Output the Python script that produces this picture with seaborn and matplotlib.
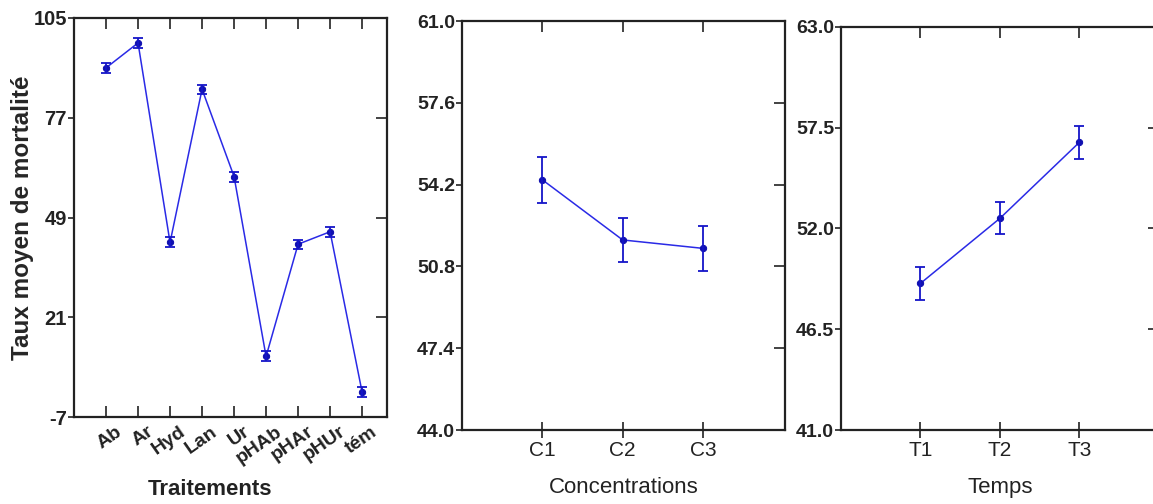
import numpy as np
import pandas as pd
import matplotlib
matplotlib.use("Agg")
import matplotlib.pyplot as plt
import matplotlib.transforms as mtransforms
import seaborn as sns

# valeurs
traitements = ["Ab", "Ar", "Hyd", "Lan", "Ur", "pHAb", "pHAr", "pHUr", "tém"]
mort_trait = [91.0, 98.0, 42.0, 85.0, 60.5, 10.0, 41.5, 45.0, 0.0]
err_trait = [1.5, 1.3, 1.4, 1.3, 1.4, 1.4, 1.3, 1.4, 1.4]

concentrations = ["C1", "C2", "C3"]
mort_conc = [54.4, 51.9, 51.55]
err_conc = [0.95, 0.92, 0.92]

temps = ["T1", "T2", "T3"]
mort_temps = [49.0, 52.55, 56.7]
err_temps = [0.9, 0.88, 0.9]

sns.set_theme(style="white")
plt.rcParams['font.family'] = ['Liberation Sans', 'DejaVu Sans']

bleu = "#2a2ae6"
fig = plt.figure(figsize=(11.53, 5.04), dpi=100)
ax1 = fig.add_axes([0.0642, 0.1726, 0.2715, 0.7917])
ax2 = fig.add_axes([0.4007, 0.1468, 0.2801, 0.8115])
ax3 = fig.add_axes([0.7294, 0.1468, 0.2758, 0.8002])


def panneau(ax, cats, vals, errs, yticks, fmt, xlim, xlab):
    df = pd.DataFrame({"x": np.arange(len(cats)), "y": vals})
    sns.lineplot(data=df, x="x", y="y", ax=ax, color=bleu, lw=1.1,
                 marker="o", markersize=4.5, markeredgecolor="#1010b0",
                 markerfacecolor="#1010b0")
    ax.errorbar(df["x"], df["y"], yerr=errs, fmt="none", ecolor="#1515c8",
                elinewidth=1.3, capsize=3.5, capthick=1.3)
    ax.set_xlim(*xlim)
    ax.set_ylim(yticks[0], yticks[-1])
    ax.set_xticks(df["x"])
    ax.set_yticks(yticks)
    ax.set_yticklabels([fmt.format(t) for t in yticks])
    ax.set_ylabel("")
    ax.set_xlabel(xlab, fontsize=16, color="#222222", labelpad=4)
    for s in ax.spines.values():
        s.set_color("#222222")
        s.set_linewidth(1.6)
    ax.tick_params(axis="y", left=True, right=True, length=4, width=1.2,
                   colors="#222222", labelsize=14, pad=1)
    ax.tick_params(axis="x", bottom=True, top=True, length=4, width=1.2,
                   colors="#222222", labelsize=15, pad=4)
    # ticks de gauche vers l'extérieur, droite vers l'intérieur
    for t in ax.yaxis.get_major_ticks():
        t.tick1line.set_marker(matplotlib.lines.TICKLEFT)
        t.tick1line.set_markersize(4)
        t.tick2line.set_marker(matplotlib.lines.TICKLEFT)
        t.tick2line.set_markersize(8)
    for t in ax.xaxis.get_major_ticks():
        t.tick1line.set_marker("|")
        t.tick1line.set_markersize(12)
        t.tick2line.set_marker(matplotlib.lines.TICKDOWN)
        t.tick2line.set_markersize(8)
    ax.set_xticklabels(cats, color="#222222")


panneau(ax1, traitements, mort_trait, err_trait, [-7, 21, 49, 77, 105],
        "{:.0f}", (-1, 8.78), "Traitements")
ax1.set_ylabel("Taux moyen de mortalité", fontsize=17.5, fontweight="bold",
               labelpad=0)
ax1.set_xlabel("Traitements", fontsize=16, fontweight="bold")
ax1.xaxis.set_label_coords(0.435, -0.155)
for t in ax1.xaxis.get_major_ticks():
    t.tick1line.set_marker(matplotlib.lines.TICKUP)
    t.tick1line.set_markersize(8)
decal = mtransforms.ScaledTranslation(9 / 100, 5 / 100, fig.dpi_scale_trans)
for lab in ax1.get_xticklabels():
    lab.set_fontweight("bold")
    lab.set_fontsize(14)
    lab.set_rotation(35)
    lab.set_rotation_mode("anchor")
    lab.set_ha("right")
    lab.set_va("top")
    lab.set_transform(lab.get_transform() + decal)
for lab in ax1.get_yticklabels():
    lab.set_fontweight("bold")
    lab.set_fontsize(14.5)

panneau(ax2, concentrations, mort_conc, err_conc,
        [44.0, 47.4, 50.8, 54.2, 57.6, 61.0], "{:.1f}", (-1, 3.02), "Concentrations")
panneau(ax3, temps, mort_temps, err_temps,
        [41.0, 46.5, 52.0, 57.5, 63.0], "{:.1f}", (-1, 3.0), "Temps")
for ax in (ax2, ax3):
    ax.xaxis.labelpad = 12
    for lab in ax.get_yticklabels():
        lab.set_fontweight("bold")

fig.savefig("out.png", dpi=100)
